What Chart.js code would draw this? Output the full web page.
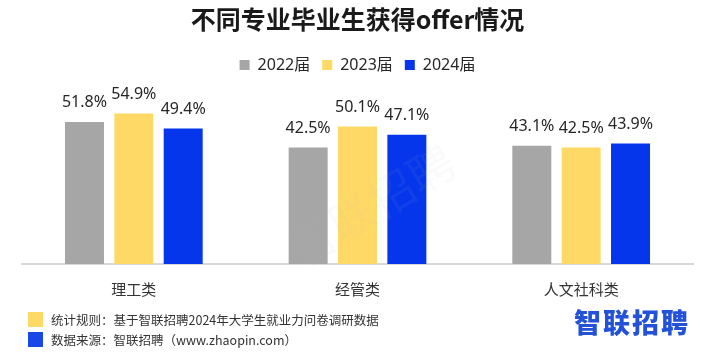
<!DOCTYPE html>
<html>
<head>
<meta charset="utf-8">
<script src="https://cdn.jsdelivr.net/npm/chart.js@4.4.1/dist/chart.umd.min.js"></script>
<style>
  html, body { margin:0; padding:0; background:#fff; }
  #wrap { position:relative; width:713px; height:355px; overflow:hidden; }
  canvas { position:absolute; left:0; top:0; }
  .note { position:absolute; left:51px; font-family:'Noto Sans CJK SC','Noto Sans',sans-serif; font-size:12.5px; color:#333; line-height:15px; white-space:nowrap; }
  .sw { position:absolute; left:28px; width:15px; height:15px; }
  #logo { position:absolute; left:574px; top:304px; font-family:'Noto Sans CJK SC',sans-serif; font-weight:900; font-size:27px; color:#2352d8; letter-spacing:2px; line-height:36px; white-space:nowrap; }
</style>
</head>
<body>
<div id="wrap">
  <canvas id="c" width="713" height="355"></canvas>
  <div class="sw" style="top:312px;background:#ffd966"></div>
  <div class="note" style="top:312px">统计规则：基于智联招聘2024年大学生就业力问卷调研数据</div>
  <div class="sw" style="top:332px;background:#1a47e8"></div>
  <div class="note" style="top:332px">数据来源：智联招聘（www.zhaopin.com）</div>
  <div id="logo">智联招聘</div>
</div>
<script>
const categories = ['理工类', '经管类', '人文社科类'];
const seriesNames = ['2022届', '2023届', '2024届'];
const values2022 = [51.8, 42.5, 43.1];
const values2023 = [54.9, 50.1, 42.5];
const values2024 = [49.4, 47.1, 43.9];
const colors = ['#a6a6a6', '#ffd966', '#0536ec'];

const labelPlugin = {
  id: 'valueLabels',
  afterDatasetsDraw(chart) {
    const ctx = chart.ctx;
    ctx.save();
    ctx.font = '16px "Noto Sans", sans-serif';
    ctx.fillStyle = '#262626';
    ctx.textAlign = 'center';
    ctx.textBaseline = 'alphabetic';
    chart.data.datasets.forEach((ds, i) => {
      chart.getDatasetMeta(i).data.forEach((bar, j) => {
        ctx.fillText(ds.data[j].toFixed(1) + '%', bar.x, bar.y - 14.5);
      });
    });
    ctx.restore();
  }
};

const watermarkPlugin = {
  id: 'watermark',
  afterDatasetsDraw(chart) {
    const ctx = chart.ctx;
    ctx.save();
    ctx.translate(372, 205);
    ctx.rotate(-0.55);
    ctx.font = '46px "Noto Sans CJK SC", sans-serif';
    ctx.textAlign = 'center';
    ctx.textBaseline = 'middle';
    ctx.fillStyle = 'rgba(190,190,190,0.07)';
    ctx.fillText('智联招聘', 0, 0);
    ctx.restore();
  }
};

new Chart(document.getElementById('c'), {
  type: 'bar',
  data: {
    labels: categories,
    datasets: [
      { label: seriesNames[0], data: values2022, backgroundColor: colors[0] },
      { label: seriesNames[1], data: values2023, backgroundColor: colors[1] },
      { label: seriesNames[2], data: values2024, backgroundColor: colors[2] }
    ]
  },
  options: {
    responsive: false,
    animation: false,
    devicePixelRatio: 1,
    layout: { padding: { left: 22, right: 20, top: 0, bottom: 41 } },
    datasets: { bar: { categoryPercentage: 0.662, barPercentage: 0.79 } },
    scales: {
      x: {
        grid: { display: false, drawTicks: false },
        border: { display: true, color: '#d9d9d9', width: 2 },
        ticks: { color: '#333', padding: 16, font: { size: 15, family: '"Noto Sans CJK SC", sans-serif' } }
      },
      y: { display: false, min: 0, max: 66 }
    },
    plugins: {
      title: {
        display: true,
        text: '不同专业毕业生获得offer情况',
        color: '#1a1a1a',
        font: { size: 25, weight: 'bold', family: '"Noto Sans CJK SC", sans-serif' },
        padding: { top: 4, bottom: 11 }
      },
      legend: {
        position: 'top',
        labels: {
          boxWidth: 10, boxHeight: 10, padding: 12,
          color: '#262626',
          font: { size: 16, family: '"Noto Sans", "Noto Sans CJK SC", sans-serif' }
        }
      },
      tooltip: { enabled: false }
    }
  },
  plugins: [labelPlugin, watermarkPlugin]
});
</script>
</body>
</html>
